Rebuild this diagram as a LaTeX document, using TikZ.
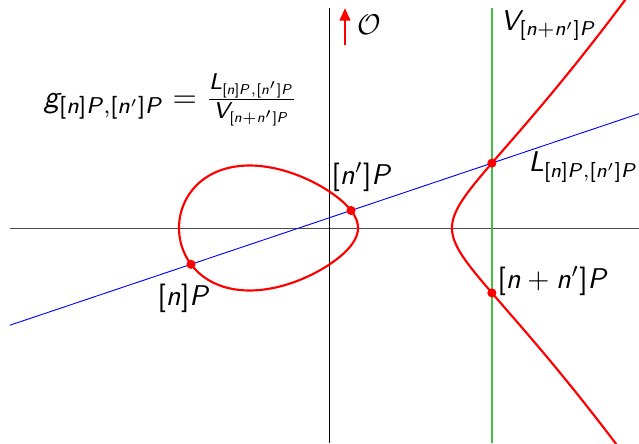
\documentclass[tikz,border=0pt]{standalone}
\usetikzlibrary{arrows.meta}
\DeclareSymbolFont{sfit}{OT1}{cmss}{m}{sl}
\DeclareSymbolFont{sfup}{OT1}{cmss}{m}{n}
\DeclareMathSymbol{g}{\mathalpha}{sfit}{`g}
\DeclareMathSymbol{n}{\mathalpha}{sfit}{`n}
\DeclareMathSymbol{P}{\mathalpha}{sfit}{`P}
\DeclareMathSymbol{L}{\mathalpha}{sfit}{`L}
\DeclareMathSymbol{V}{\mathalpha}{sfit}{`V}
\DeclareMathSymbol{[}{\mathopen}{sfup}{`[}
\DeclareMathSymbol{]}{\mathclose}{sfup}{`]}
\definecolor{vgreen}{RGB}{70,190,70}
\tikzset{
  axis/.style={line width=0.32pt},
  curve/.style={red, line width=0.75pt},
  dotmark/.style={circle, fill=red, inner sep=0pt, minimum size=3.2pt},
  lbl/.style={anchor=west, inner sep=0pt},
}
\begin{document}
\begin{tikzpicture}[x=3.5pt,y=3.5pt]
\useasboundingbox (-32.9,-21.5) rectangle (31.0,22.8);
% points
\coordinate (P1) at (-13.8,-3.6305);
\coordinate (P2) at (2.2,1.7505);
\coordinate (Lp) at (16.2883,6.4886);
\coordinate (Sp) at (16.2883,-6.4886);
\coordinate (xl) at (-31.9,0);
\coordinate (xr) at (31.0,0);
\coordinate (yb) at (0,-21.5);
\coordinate (yt) at (0,22.0);
\coordinate (gb) at (16.2883,-21.5);
\coordinate (gt) at (16.2883,22.0);
\coordinate (bl) at (-31.9,-9.718);
\coordinate (br) at (31.0,11.436);
\coordinate (ab) at (1.6,18.3);
\coordinate (at) at (1.6,22.0);
% axes
\draw[axis, black!70] (xl) -- (xr);
\draw[axis] (yb) -- (yt);
\draw[line width=0.45pt, vgreen] (gb) -- (gt);
% curve
\begin{scope}
\clip (-32.9,-21.5) rectangle (31.0,22.8);
\draw[curve] plot[domain=0:360, samples=240, variable=\t]
  ({-15+8.95*(1-cos(\t))}, {8.95*sin(\t)*sqrt(0.0252*(12.3-(-15+8.95*(1-cos(\t)))))}) -- cycle;
\draw[curve] plot[domain=-4.3:4.3, samples=240, variable=\s]
  ({12.3+\s*\s}, {\s*sqrt(0.0252*(12.3+\s*\s+15)*(12.3+\s*\s-2.9))});
\end{scope}
% chord
\draw[axis, blue] (bl) -- (br);
% arrow
\draw[red, line width=1pt, -{Triangle[width=3.6pt,length=4.4pt]}] (ab) -- (at);
% dots
\node[dotmark] (d1) at (P1) {};
\node[dotmark] (d2) at (P2) {};
\node[dotmark] (d3) at (Lp) {};
\node[dotmark] (d4) at (Sp) {};
% labels
\node[lbl, font=\fontsize{10.9}{13}\selectfont] (f) at (-28.6,12.8) {$g_{[n]P,[n']P} = \frac{L_{[n]P,[n']P}}{V_{[n+n']P}}$};
\node[lbl] (o) at (2.8,20.3) {$\mathcal{O}$};
\node[lbl] (v) at (17.1,20.2) {$V_{[n+n']P}$};
\node[lbl] (l) at (19.9,6.1) {$L_{[n]P,[n']P}$};
\node[lbl] (q) at (0.2,5.1) {$[n']P$};
\node[lbl] (p) at (-17.2,-7.0) {$[n]P$};
\node[lbl] (s) at (16.8,-5.3) {$[n+n']P$};
\end{tikzpicture}
\end{document}
